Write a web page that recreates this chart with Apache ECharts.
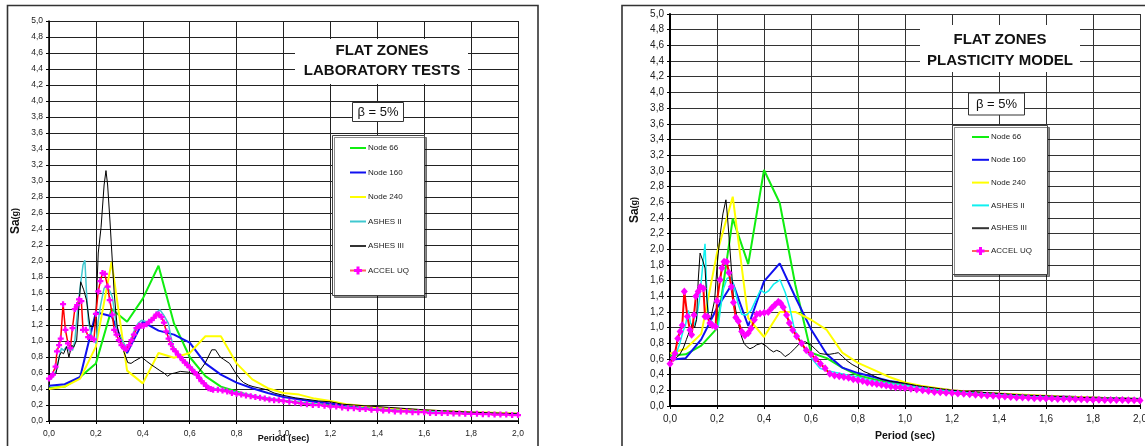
<!DOCTYPE html>
<html><head><meta charset="utf-8">
<script src="https://cdn.jsdelivr.net/npm/echarts@6/dist/echarts.min.js"></script>
<style>html,body{margin:0;padding:0;background:#fff}#c{width:1145px;height:446px}</style>
</head><body><div id="c"></div>
<script>
// ---------- DATA ----------
const seriesNames = ['Node 66','Node 160','Node 240','ASHES II','ASHES III','ACCEL UQ'];
const titleLab = ['FLAT ZONES','LABORATORY TESTS'];
const titlePlast = ['FLAT ZONES','PLASTICITY MODEL'];
const dampingLabel = 'β = 5%';
const xAxisName = 'Period (sec)';

// Panel 1: laboratory tests  [period (s), Sa (g)]
const lab_node66 = [[0,0.41],[0.067,0.43],[0.133,0.55],[0.2,0.72],[0.267,1.40],[0.333,1.24],[0.4,1.53],[0.467,1.94],[0.533,1.22],[0.6,0.80],[0.667,0.56],[0.733,0.43],[0.8,0.37],[0.867,0.31],[0.933,0.27],[1.0,0.25],[1.067,0.23],[1.133,0.21],[1.2,0.2],[1.267,0.18],[1.333,0.16],[1.4,0.15],[1.467,0.14],[1.533,0.13],[1.6,0.12],[1.667,0.115],[1.733,0.11],[1.8,0.10],[1.867,0.095],[1.933,0.09],[2.0,0.085]];
const lab_node160 = [[0,0.44],[0.067,0.46],[0.133,0.55],[0.2,1.36],[0.267,1.31],[0.333,0.85],[0.4,1.24],[0.467,1.13],[0.533,1.08],[0.6,0.98],[0.667,0.72],[0.733,0.58],[0.8,0.48],[0.867,0.41],[0.933,0.35],[1.0,0.30],[1.067,0.27],[1.133,0.24],[1.2,0.22],[1.267,0.19],[1.333,0.17],[1.4,0.16],[1.467,0.145],[1.533,0.135],[1.6,0.125],[1.667,0.12],[1.733,0.11],[1.8,0.105],[1.867,0.1],[1.933,0.095],[2.0,0.09]];
const lab_node240 = [[0,0.40],[0.067,0.43],[0.133,0.53],[0.2,0.93],[0.267,1.99],[0.333,0.63],[0.4,0.47],[0.467,0.85],[0.533,0.79],[0.6,0.85],[0.667,1.06],[0.733,1.06],[0.8,0.72],[0.867,0.52],[0.933,0.41],[1.0,0.35],[1.067,0.33],[1.133,0.28],[1.2,0.25],[1.267,0.21],[1.333,0.19],[1.4,0.17],[1.467,0.155],[1.533,0.145],[1.6,0.135],[1.667,0.125],[1.733,0.12],[1.8,0.11],[1.867,0.105],[1.933,0.1],[2.0,0.095]];
const lab_ashes2 = [[0,0.51],[0.015,0.55],[0.03,0.62],[0.045,0.82],[0.053,0.91],[0.062,0.88],[0.074,0.93],[0.081,0.90],[0.088,0.87],[0.095,0.92],[0.1,0.88],[0.11,1.0],[0.124,1.45],[0.135,1.72],[0.145,1.95],[0.153,2.01],[0.16,1.6],[0.168,1.25],[0.18,1.08],[0.19,1.02],[0.2,0.97],[0.21,1.25],[0.22,1.45],[0.235,1.66],[0.246,1.69],[0.26,1.62],[0.27,1.55],[0.28,1.35],[0.29,1.12],[0.31,1.02],[0.331,0.91],[0.345,0.98],[0.367,1.16],[0.38,1.22],[0.395,1.26],[0.416,1.24],[0.44,1.28],[0.46,1.36],[0.473,1.39],[0.49,1.32],[0.509,1.22],[0.52,1.05],[0.53,0.93],[0.55,0.85],[0.57,0.78],[0.6,0.70],[0.63,0.60],[0.66,0.49],[0.69,0.41],[0.72,0.40],[0.76,0.38],[0.8,0.36],[0.85,0.33],[0.9,0.30],[0.95,0.28],[1.0,0.26],[1.1,0.22],[1.2,0.19],[1.3,0.17],[1.4,0.15],[1.5,0.13],[1.6,0.12],[1.7,0.11],[1.8,0.1],[1.9,0.095],[2.0,0.09]];
const lab_ashes3 = [[0,0.55],[0.015,0.57],[0.03,0.60],[0.045,0.82],[0.053,0.86],[0.062,0.84],[0.075,0.93],[0.085,0.80],[0.097,0.95],[0.105,0.92],[0.118,1.01],[0.128,1.45],[0.135,1.74],[0.139,1.76],[0.148,1.64],[0.16,1.51],[0.175,1.18],[0.189,1.18],[0.2,1.35],[0.21,2.10],[0.222,2.42],[0.235,2.95],[0.243,3.13],[0.25,2.95],[0.26,2.5],[0.268,2.1],[0.278,1.6],[0.29,1.2],[0.305,1.0],[0.32,0.86],[0.336,0.73],[0.35,0.72],[0.365,0.75],[0.395,0.80],[0.415,0.75],[0.438,0.70],[0.473,0.63],[0.49,0.60],[0.506,0.56],[0.52,0.59],[0.537,0.60],[0.56,0.62],[0.594,0.61],[0.61,0.59],[0.63,0.575],[0.665,0.72],[0.694,0.89],[0.71,0.89],[0.73,0.80],[0.745,0.77],[0.77,0.72],[0.785,0.65],[0.8,0.58],[0.815,0.52],[0.83,0.48],[0.85,0.45],[0.87,0.43],[0.9,0.41],[0.93,0.39],[0.96,0.35],[1.0,0.32],[1.05,0.29],[1.1,0.27],[1.15,0.25],[1.2,0.24],[1.25,0.21],[1.3,0.2],[1.4,0.18],[1.5,0.16],[1.6,0.14],[1.7,0.125],[1.8,0.11],[1.9,0.1],[2.0,0.09]];
const lab_accel = [[0,0.53],[0.01,0.56],[0.017,0.58],[0.028,0.68],[0.034,0.87],[0.043,0.95],[0.05,1.03],[0.06,1.46],[0.07,1.14],[0.081,0.97],[0.091,0.91],[0.1,1.16],[0.11,1.40],[0.12,1.45],[0.128,1.52],[0.138,1.50],[0.145,1.14],[0.157,1.14],[0.167,1.05],[0.18,1.04],[0.192,1.02],[0.2,1.34],[0.21,1.62],[0.219,1.75],[0.228,1.85],[0.238,1.84],[0.25,1.68],[0.259,1.51],[0.27,1.33],[0.278,1.14],[0.288,1.08],[0.298,1.01],[0.309,0.95],[0.32,0.91],[0.33,0.90],[0.342,0.95],[0.352,1.01],[0.362,1.08],[0.373,1.16],[0.384,1.19],[0.394,1.19],[0.404,1.19],[0.416,1.21],[0.427,1.24],[0.437,1.26],[0.447,1.29],[0.458,1.33],[0.468,1.33],[0.48,1.30],[0.49,1.23],[0.5,1.12],[0.51,1.03],[0.52,0.96],[0.53,0.90],[0.54,0.87],[0.55,0.83],[0.56,0.80],[0.57,0.76],[0.58,0.73],[0.59,0.70],[0.6,0.67],[0.61,0.64],[0.62,0.61],[0.63,0.58],[0.64,0.54],[0.65,0.50],[0.66,0.47],[0.67,0.44],[0.68,0.41],[0.69,0.40],[0.7,0.39],[0.72,0.39],[0.74,0.38],[0.76,0.37],[0.78,0.35],[0.8,0.34],[0.82,0.33],[0.84,0.32],[0.86,0.31],[0.88,0.30],[0.9,0.29],[0.92,0.28],[0.94,0.27],[0.96,0.26],[0.98,0.26],[1.0,0.25],[1.025,0.24],[1.05,0.23],[1.075,0.22],[1.1,0.21],[1.125,0.20],[1.15,0.20],[1.175,0.19],[1.2,0.18],[1.225,0.18],[1.25,0.17],[1.275,0.16],[1.3,0.16],[1.325,0.15],[1.35,0.15],[1.375,0.14],[1.4,0.14],[1.425,0.13],[1.45,0.13],[1.475,0.12],[1.5,0.12],[1.525,0.12],[1.55,0.11],[1.575,0.11],[1.6,0.11],[1.625,0.10],[1.65,0.10],[1.675,0.10],[1.7,0.10],[1.725,0.095],[1.75,0.095],[1.775,0.09],[1.8,0.09],[1.825,0.09],[1.85,0.085],[1.875,0.085],[1.9,0.08],[1.925,0.08],[1.95,0.08],[1.975,0.075],[2.0,0.075]];

// Panel 2: plasticity model  [period (s), Sa (g)]
const pl_node66 = [[0,0.64],[0.067,0.66],[0.133,0.77],[0.2,0.99],[0.267,2.39],[0.333,1.81],[0.4,3.01],[0.467,2.59],[0.533,1.55],[0.6,0.68],[0.667,0.61],[0.733,0.49],[0.8,0.39],[0.867,0.34],[0.933,0.3],[1.0,0.27],[1.067,0.24],[1.133,0.21],[1.2,0.19],[1.267,0.17],[1.333,0.16],[1.4,0.15],[1.467,0.14],[1.533,0.13],[1.6,0.12],[1.667,0.115],[1.733,0.11],[1.8,0.105],[1.867,0.1],[1.933,0.095],[2.0,0.09]];
const pl_node160 = [[0,0.59],[0.067,0.61],[0.133,0.85],[0.2,1.25],[0.267,1.57],[0.333,1.02],[0.4,1.59],[0.467,1.82],[0.533,1.39],[0.6,0.98],[0.667,0.66],[0.733,0.49],[0.8,0.42],[0.867,0.37],[0.933,0.32],[1.0,0.29],[1.067,0.25],[1.133,0.22],[1.2,0.2],[1.267,0.18],[1.333,0.165],[1.4,0.155],[1.467,0.145],[1.533,0.135],[1.6,0.125],[1.667,0.12],[1.733,0.115],[1.8,0.11],[1.867,0.1],[1.933,0.095],[2.0,0.09]];
const pl_node240 = [[0,0.67],[0.067,0.73],[0.133,0.92],[0.2,1.95],[0.267,2.67],[0.333,1.12],[0.4,0.88],[0.467,1.2],[0.533,1.2],[0.6,1.1],[0.667,0.97],[0.733,0.68],[0.8,0.55],[0.867,0.46],[0.933,0.37],[1.0,0.30],[1.067,0.26],[1.133,0.23],[1.2,0.2],[1.267,0.185],[1.333,0.17],[1.4,0.16],[1.467,0.15],[1.533,0.14],[1.6,0.13],[1.667,0.12],[1.733,0.115],[1.8,0.11],[1.867,0.1],[1.933,0.095],[2.0,0.09]];
const pl_ashes2 = [[0,0.6],[0.02,0.62],[0.04,0.78],[0.055,0.95],[0.065,1.02],[0.078,1.22],[0.088,1.05],[0.1,1.02],[0.112,1.1],[0.125,1.35],[0.138,1.75],[0.149,2.07],[0.156,1.5],[0.163,1.14],[0.178,1.08],[0.19,1.03],[0.205,1.0],[0.215,1.25],[0.228,1.5],[0.243,1.63],[0.26,1.64],[0.275,1.5],[0.29,1.3],[0.305,1.17],[0.326,1.16],[0.345,1.22],[0.365,1.35],[0.385,1.48],[0.404,1.44],[0.42,1.47],[0.44,1.55],[0.468,1.61],[0.49,1.45],[0.51,1.25],[0.53,0.97],[0.546,0.88],[0.57,0.74],[0.589,0.67],[0.61,0.58],[0.638,0.48],[0.67,0.45],[0.7,0.43],[0.75,0.40],[0.8,0.37],[0.85,0.33],[0.9,0.3],[0.95,0.28],[1.0,0.26],[1.1,0.22],[1.2,0.19],[1.3,0.165],[1.4,0.15],[1.5,0.135],[1.6,0.12],[1.7,0.11],[1.8,0.1],[1.9,0.095],[2.0,0.09]];
const pl_ashes3 = [[0,0.59],[0.02,0.6],[0.04,0.65],[0.057,0.74],[0.07,0.85],[0.085,0.97],[0.095,1.05],[0.105,1.0],[0.113,1.1],[0.12,1.6],[0.128,1.95],[0.14,1.85],[0.149,1.76],[0.156,1.4],[0.163,1.15],[0.172,1.1],[0.18,1.1],[0.19,1.35],[0.2,1.78],[0.212,2.15],[0.225,2.45],[0.238,2.63],[0.245,2.4],[0.255,2.0],[0.27,1.39],[0.284,1.15],[0.295,1.0],[0.305,0.88],[0.315,0.8],[0.326,0.76],[0.34,0.73],[0.355,0.75],[0.369,0.78],[0.39,0.80],[0.411,0.76],[0.425,0.72],[0.44,0.69],[0.454,0.71],[0.47,0.69],[0.49,0.63],[0.51,0.67],[0.53,0.73],[0.553,0.80],[0.575,0.82],[0.603,0.77],[0.62,0.72],[0.638,0.67],[0.66,0.66],[0.68,0.66],[0.7,0.67],[0.716,0.68],[0.735,0.63],[0.752,0.58],[0.775,0.53],[0.8,0.49],[0.825,0.44],[0.85,0.41],[0.87,0.38],[0.9,0.34],[0.95,0.31],[1.0,0.29],[1.05,0.26],[1.1,0.24],[1.15,0.22],[1.2,0.2],[1.3,0.18],[1.4,0.16],[1.5,0.14],[1.6,0.13],[1.7,0.115],[1.8,0.105],[1.9,0.1],[2.0,0.09]];
const pl_accel = [[0,0.54],[0.014,0.61],[0.021,0.67],[0.033,0.86],[0.043,0.95],[0.052,1.03],[0.061,1.46],[0.074,1.14],[0.085,0.97],[0.092,0.91],[0.102,1.16],[0.11,1.40],[0.12,1.46],[0.13,1.52],[0.142,1.50],[0.149,1.14],[0.159,1.14],[0.17,1.06],[0.18,1.03],[0.194,1.01],[0.2,1.34],[0.213,1.61],[0.221,1.76],[0.23,1.84],[0.241,1.84],[0.251,1.70],[0.261,1.52],[0.27,1.32],[0.28,1.13],[0.291,1.08],[0.305,0.95],[0.319,0.90],[0.333,0.93],[0.345,0.99],[0.359,1.10],[0.369,1.17],[0.383,1.18],[0.401,1.19],[0.418,1.20],[0.433,1.25],[0.447,1.29],[0.461,1.33],[0.471,1.31],[0.482,1.26],[0.496,1.16],[0.508,1.06],[0.522,0.97],[0.539,0.89],[0.56,0.80],[0.58,0.71],[0.6,0.66],[0.62,0.60],[0.64,0.54],[0.66,0.48],[0.68,0.41],[0.7,0.39],[0.72,0.38],[0.74,0.37],[0.76,0.36],[0.78,0.34],[0.8,0.33],[0.82,0.32],[0.84,0.30],[0.86,0.29],[0.88,0.28],[0.9,0.27],[0.92,0.26],[0.94,0.25],[0.96,0.24],[0.98,0.235],[1.0,0.23],[1.025,0.22],[1.05,0.21],[1.075,0.2],[1.1,0.19],[1.125,0.18],[1.15,0.175],[1.175,0.17],[1.2,0.165],[1.225,0.16],[1.25,0.155],[1.275,0.15],[1.3,0.145],[1.325,0.14],[1.35,0.135],[1.375,0.13],[1.4,0.125],[1.425,0.12],[1.45,0.115],[1.475,0.11],[1.5,0.11],[1.525,0.105],[1.55,0.1],[1.575,0.1],[1.6,0.095],[1.625,0.095],[1.65,0.09],[1.675,0.09],[1.7,0.088],[1.725,0.085],[1.75,0.085],[1.775,0.082],[1.8,0.08],[1.825,0.08],[1.85,0.078],[1.875,0.077],[1.9,0.076],[1.925,0.075],[1.95,0.074],[1.975,0.072],[2.0,0.07]];

// ---------- STYLE ----------
const FONT = '"Liberation Sans", Arial, sans-serif';
const C = {g:'#10EE10', b:'#1010F0', y:'#FFFF00', c1:'#40C8D0', c2:'#10F0F0', k:'#000000', r:'#FF0000', m:'#FF00FF'};
const plusPath = 'path://M2.5,0H5.5V2.5H8V5.5H5.5V8H2.5V5.5H0V2.5H2.5Z';
const fmt = v => v.toFixed(1).replace('.', ',');

function mkAxes(idx, tickFont, nameGapX, nameFontX, nameGapY, axisW, gridColor) {
  const x = {
    type:'value', gridIndex:idx, min:0, max:2, interval:0.2,
    axisLine:{show:true, onZero:false, lineStyle:{color:'#000', width:axisW}},
    axisTick:{show:true, length:3, lineStyle:{color:'#000'}},
    axisLabel:{formatter:fmt, fontSize:tickFont, color:'#222', fontFamily:FONT, margin:8},
    splitLine:{show:true, lineStyle:{color:gridColor, width:1}},
    name:xAxisName, nameLocation:'middle', nameGap:nameGapX, nameMoveOverlap:false,
    nameTextStyle:{fontSize:nameFontX, fontWeight:'bold', color:'#111', fontFamily:FONT}
  };
  const y = {
    type:'value', gridIndex:idx, min:0, max:5, interval:0.2,
    axisLine:{show:true, onZero:false, lineStyle:{color:'#000', width:axisW}},
    axisTick:{show:true, length:3, lineStyle:{color:'#000'}},
    axisLabel:{formatter:fmt, fontSize:tickFont, color:'#222', fontFamily:FONT, margin:6},
    splitLine:{show:true, lineStyle:{color:gridColor, width:1}},
    name:'{a|Sa}{b|(g)}', nameLocation:'middle', nameGap:nameGapY, nameRotate:90, nameMoveOverlap:false,
    nameTextStyle:{fontFamily:FONT, color:'#111', rich:{a:{fontSize:12, fontWeight:'bold', fontFamily:FONT}, b:{fontSize:9, fontWeight:'bold', fontFamily:FONT}}}
  };
  return [x, y];
}
const [x0, y0] = mkAxes(0, 8.5, 13, 9, 27, 1.5, '#222');
const [x1, y1] = mkAxes(1, 10, 25, 10.5, 29, 2, '#333');

function line(name, idx, data, color, w) {
  return {name, type:'line', xAxisIndex:idx, yAxisIndex:idx, data, symbol:'none',
    lineStyle:{color, width:w}, itemStyle:{color}, emphasis:{disabled:true}, silent:true};
}
function accel(idx, data, sym, size, w) {
  return {name:'ACCEL UQ', type:'line', xAxisIndex:idx, yAxisIndex:idx, data,
    symbol:sym, symbolSize:size, showSymbol:true, showAllSymbol:true,
    lineStyle:{color:C.r, width:w}, itemStyle:{color:C.m, borderWidth:0},
    emphasis:{disabled:true}, silent:true};
}

const series = [
  line('Node 66', 0, lab_node66, C.g, 2),
  line('Node 160', 0, lab_node160, C.b, 2),
  line('Node 240', 0, lab_node240, C.y, 2),
  line('ASHES II', 0, lab_ashes2, C.c1, 1.5),
  line('ASHES III', 0, lab_ashes3, C.k, 1),
  accel(0, lab_accel, plusPath, 6, 1.5),
  line('Node 66', 1, pl_node66, C.g, 2),
  line('Node 160', 1, pl_node160, C.b, 2),
  line('Node 240', 1, pl_node240, C.y, 2),
  line('ASHES II', 1, pl_ashes2, C.c2, 1.5),
  line('ASHES III', 1, pl_ashes3, C.k, 1),
  accel(1, pl_accel, 'diamond', [7,8], 2)
];

const legendLineColors = [C.g, C.b, C.y, null, '#333'];
function legendData(cyan) {
  return seriesNames.map((n, i) => {
    if (n === 'ACCEL UQ') return {name:n, lineStyle:{color:'#FF6060', width:2}};
    const col = n === 'ASHES II' ? cyan : legendLineColors[i];
    return {name:n, lineStyle:{color:col, width:2}, itemStyle:{color:'rgba(0,0,0,0)', opacity:0, borderWidth:0}};
  });
}
const legendCommon = {orient:'vertical', itemWidth:16, itemHeight:10, padding:0, z:200,
  selectedMode:false, textStyle:{fontSize:8, color:'#222', fontFamily:FONT, padding:[0,0,0,-3]}};

function boxText(x, y, text, size, weight) {
  return {type:'text', x, y, z:150, silent:true,
    style:{text, fontSize:size, fontWeight:weight, fontFamily:FONT, fill:'#111', align:'center', verticalAlign:'middle'}};
}
function rect(x, y, w, h, fill, stroke, lw, z, shadow) {
  const st = {fill, stroke, lineWidth:lw};
  if (shadow) { st.shadowColor = 'rgba(0,0,0,0.45)'; st.shadowOffsetX = 2; st.shadowOffsetY = 2; st.shadowBlur = 0; }
  return {type:'rect', z, silent:true, shape:{x, y, width:w, height:h}, style:st};
}

const graphics = [
  rect(7.5, 5.5, 530.5, 520, 'none', '#333', 1.6, 90),
  rect(622, 5.5, 560, 520, 'none', '#333', 1.6, 90),
  rect(295, 39, 173, 45, '#fff', 'none', 0, 100),
  boxText(382, 51, titleLab[0], 15, 'bold'),
  boxText(382, 71, titleLab[1], 15, 'bold'),
  rect(352.5, 102.5, 51, 19, '#fff', '#333', 1, 100),
  boxText(378, 112.5, dampingLabel, 13, 'normal'),
  rect(332.5, 135.5, 92, 160, '#fff', '#444', 1, 100, true),
  rect(920, 25, 160, 47, '#fff', 'none', 0, 100),
  boxText(1000, 40, titlePlast[0], 15, 'bold'),
  boxText(1000, 61, titlePlast[1], 15, 'bold'),
  rect(968.5, 93, 56, 22, '#fff', '#333', 1, 100),
  boxText(996.5, 104.5, dampingLabel, 13, 'normal'),
  rect(952.5, 125.5, 95, 149, '#fff', '#444', 1, 100, true)
];

const option = {
  animation:false,
  backgroundColor:'#fff',
  grid:[
    {left:49, top:21, width:469, height:400, outerBoundsMode:'none', containLabel:false},
    {left:670, top:14, width:470, height:392, outerBoundsMode:'none', containLabel:false}
  ],
  xAxis:[x0, x1],
  yAxis:[y0, y1],
  legend:[
    Object.assign({}, legendCommon, {left:349, top:144, itemGap:16.5, data:legendData(C.c1)}),
    Object.assign({}, legendCommon, {left:971, top:133, itemWidth:17, itemGap:14.8, data:legendData(C.c2)})
  ],
  graphic:{elements:graphics},
  series
};
const chart = echarts.init(document.getElementById('c'), null, {renderer:'canvas'});
chart.setOption(option);
</script></body></html>
